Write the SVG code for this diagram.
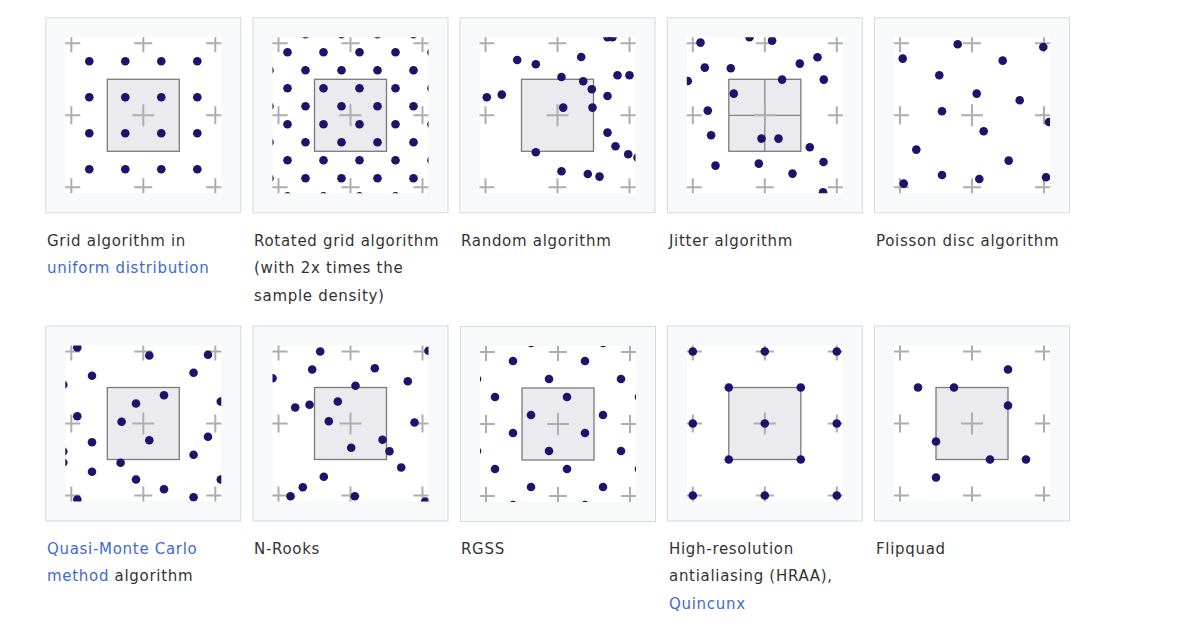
<svg xmlns="http://www.w3.org/2000/svg" xmlns:xlink="http://www.w3.org/1999/xlink" width="1200" height="628" viewBox="0 0 1200 628">
<style>
.frame{fill:#f8f9fa;stroke:#d6d9dd;stroke-width:1}
.inner{fill:#ffffff}
.px{fill:#ebebef;stroke:#7a7a7a;stroke-width:1.3}
.cr{stroke:#aeaeae;stroke-width:2;fill:none}
.jl{stroke:#858585;stroke-width:1.3;fill:none}
.d{fill:#1f126b}
.cap{font-family:"DejaVu Sans","Liberation Sans",sans-serif;font-size:15px;fill:#333333;letter-spacing:0.7px}
.lnk{fill:#4169d6}
</style>
<defs>
<clipPath id="clip"><rect x="-78" y="-78" width="156" height="156"/></clipPath>
<path id="crosses" class="cr" d="M-81 -72h18M-72 -81v18M-9 -72h18M0 -81v18M63 -72h18M72 -81v18M-81 0h18M-72 -9v18M63 0h18M72 -9v18M-81 72h18M-72 63v18M-9 72h18M0 63v18M63 72h18M72 63v18M-11 0h22M0 -11v22"/>
<rect id="frame" class="frame" x="-97.5" y="-97.5" width="195" height="195"/>
<rect id="inner" class="inner" x="-78" y="-78" width="156" height="156"/>
<rect id="pixel" class="px" x="-36" y="-36" width="72" height="72"/>
</defs>
<rect width="1200" height="628" fill="#ffffff"/>

<g id="grid">
<g transform="translate(143.3,115.3)">
<use href="#frame"/>
<g clip-path="url(#clip)">
<use href="#inner"/><use href="#pixel"/><use href="#crosses"/>
<g class="d">
<circle cx="-54" cy="-54" r="4.3"/><circle cx="-18" cy="-54" r="4.3"/><circle cx="18" cy="-54" r="4.3"/><circle cx="54" cy="-54" r="4.3"/>
<circle cx="-54" cy="-18" r="4.3"/><circle cx="-18" cy="-18" r="4.3"/><circle cx="18" cy="-18" r="4.3"/><circle cx="54" cy="-18" r="4.3"/>
<circle cx="-54" cy="18" r="4.3"/><circle cx="-18" cy="18" r="4.3"/><circle cx="18" cy="18" r="4.3"/><circle cx="54" cy="18" r="4.3"/>
<circle cx="-54" cy="54" r="4.3"/><circle cx="-18" cy="54" r="4.3"/><circle cx="18" cy="54" r="4.3"/><circle cx="54" cy="54" r="4.3"/>
</g>
</g>
</g>
<text class="cap" x="47" y="245.5">Grid algorithm in</text>
<text class="cap lnk" x="47" y="273">uniform distribution</text>
</g>

<g id="rotated">
<g transform="translate(350.5,115.3)">
<use href="#frame"/>
<g clip-path="url(#clip)">
<use href="#inner"/><use href="#pixel"/><use href="#crosses"/>
<g class="d">
<circle cx="-81" cy="-81" r="4.3"/><circle cx="-45" cy="-81" r="4.3"/><circle cx="-9" cy="-81" r="4.3"/><circle cx="27" cy="-81" r="4.3"/><circle cx="63" cy="-81" r="4.3"/>
<circle cx="-63" cy="-63" r="4.3"/><circle cx="-27" cy="-63" r="4.3"/><circle cx="9" cy="-63" r="4.3"/><circle cx="45" cy="-63" r="4.3"/><circle cx="81" cy="-63" r="4.3"/>
<circle cx="-81" cy="-45" r="4.3"/><circle cx="-45" cy="-45" r="4.3"/><circle cx="-9" cy="-45" r="4.3"/><circle cx="27" cy="-45" r="4.3"/><circle cx="63" cy="-45" r="4.3"/>
<circle cx="-63" cy="-27" r="4.3"/><circle cx="-27" cy="-27" r="4.3"/><circle cx="9" cy="-27" r="4.3"/><circle cx="45" cy="-27" r="4.3"/><circle cx="81" cy="-27" r="4.3"/>
<circle cx="-81" cy="-9" r="4.3"/><circle cx="-45" cy="-9" r="4.3"/><circle cx="-9" cy="-9" r="4.3"/><circle cx="27" cy="-9" r="4.3"/><circle cx="63" cy="-9" r="4.3"/>
<circle cx="-63" cy="9" r="4.3"/><circle cx="-27" cy="9" r="4.3"/><circle cx="9" cy="9" r="4.3"/><circle cx="45" cy="9" r="4.3"/><circle cx="81" cy="9" r="4.3"/>
<circle cx="-81" cy="27" r="4.3"/><circle cx="-45" cy="27" r="4.3"/><circle cx="-9" cy="27" r="4.3"/><circle cx="27" cy="27" r="4.3"/><circle cx="63" cy="27" r="4.3"/>
<circle cx="-63" cy="45" r="4.3"/><circle cx="-27" cy="45" r="4.3"/><circle cx="9" cy="45" r="4.3"/><circle cx="45" cy="45" r="4.3"/><circle cx="81" cy="45" r="4.3"/>
<circle cx="-81" cy="63" r="4.3"/><circle cx="-45" cy="63" r="4.3"/><circle cx="-9" cy="63" r="4.3"/><circle cx="27" cy="63" r="4.3"/><circle cx="63" cy="63" r="4.3"/>
<circle cx="-63" cy="81" r="4.3"/><circle cx="-27" cy="81" r="4.3"/><circle cx="9" cy="81" r="4.3"/><circle cx="45" cy="81" r="4.3"/><circle cx="81" cy="81" r="4.3"/>
</g>
</g>
</g>
<text class="cap" x="254" y="245.5">Rotated grid algorithm</text>
<text class="cap" x="254" y="273">(with 2x times the</text>
<text class="cap" x="254" y="300.5">sample density)</text>
</g>

<g id="random">
<g transform="translate(557.5,115.3)">
<use href="#frame"/>
<g clip-path="url(#clip)">
<use href="#inner"/><use href="#pixel"/><use href="#crosses"/>
<g class="d">
<circle cx="50" cy="-78" r="4.3"/><circle cx="55" cy="-78" r="4.3"/>
<circle cx="-40.3" cy="-55.3" r="4.3"/><circle cx="-21.7" cy="-51" r="4.3"/><circle cx="23.7" cy="-58.3" r="4.3"/>
<circle cx="4" cy="-38.3" r="4.3"/><circle cx="25.7" cy="-34" r="4.3"/><circle cx="60" cy="-40" r="4.3"/><circle cx="72" cy="-40" r="4.3"/>
<circle cx="34.3" cy="-26" r="4.3"/><circle cx="50" cy="-19.3" r="4.3"/><circle cx="-70.7" cy="-18" r="4.3"/><circle cx="-55.7" cy="-20.7" r="4.3"/>
<circle cx="5.7" cy="-7.7" r="4.3"/><circle cx="35" cy="-7.7" r="4.3"/><circle cx="50" cy="17.3" r="4.3"/><circle cx="58" cy="31" r="4.3"/>
<circle cx="70.7" cy="39" r="4.3"/><circle cx="80" cy="42.3" r="4.3"/><circle cx="-21.7" cy="37" r="4.3"/><circle cx="4" cy="56" r="4.3"/>
<circle cx="30.3" cy="58.7" r="4.3"/><circle cx="42" cy="61.3" r="4.3"/>
</g>
</g>
</g>
<text class="cap" x="461" y="245.5">Random algorithm</text>
</g>

<g id="jitter">
<g transform="translate(764.8,115.3)">
<use href="#frame"/>
<g clip-path="url(#clip)">
<use href="#inner"/><use href="#pixel"/>
<path class="jl" d="M0 -36V36M-36 0H36"/>
<use href="#crosses"/>
<g class="d">
<circle cx="-64.3" cy="-72.7" r="4.3"/><circle cx="-15.3" cy="-78" r="4.3"/><circle cx="7.3" cy="-74.7" r="4.3"/>
<circle cx="-60" cy="-47.7" r="4.3"/><circle cx="-34" cy="-47" r="4.3"/><circle cx="35" cy="-51.7" r="4.3"/><circle cx="52.7" cy="-58" r="4.3"/>
<circle cx="-77" cy="-34.3" r="4.3"/><circle cx="17.3" cy="-35.7" r="4.3"/><circle cx="59" cy="-35.7" r="4.3"/><circle cx="-31" cy="-21.7" r="4.3"/>
<circle cx="-57" cy="-4.7" r="4.3"/><circle cx="-53.7" cy="20" r="4.3"/><circle cx="-3.3" cy="23.3" r="4.3"/><circle cx="13.7" cy="23.3" r="4.3"/>
<circle cx="45" cy="32" r="4.3"/><circle cx="-49.3" cy="50.3" r="4.3"/><circle cx="-6" cy="48.3" r="4.3"/><circle cx="58.7" cy="46.7" r="4.3"/>
<circle cx="27.7" cy="58.3" r="4.3"/><circle cx="58.3" cy="77" r="4.3"/>
</g>
</g>
</g>
<text class="cap" x="669" y="245.5">Jitter algorithm</text>
</g>

<g id="poisson">
<g transform="translate(972,115.3)">
<use href="#frame"/>
<g clip-path="url(#clip)">
<use href="#inner"/><use href="#crosses"/>
<g class="d">
<circle cx="-14.3" cy="-71" r="4.3"/><circle cx="71.3" cy="-68.3" r="4.3"/><circle cx="-69.3" cy="-56.7" r="4.3"/><circle cx="30.7" cy="-54.7" r="4.3"/>
<circle cx="-32.7" cy="-40" r="4.3"/><circle cx="4.7" cy="-21.7" r="4.3"/><circle cx="47.7" cy="-15" r="4.3"/><circle cx="-30" cy="-4" r="4.3"/>
<circle cx="77" cy="6.7" r="4.3"/><circle cx="11.7" cy="16" r="4.3"/><circle cx="-55.7" cy="34.3" r="4.3"/><circle cx="36.7" cy="45.3" r="4.3"/>
<circle cx="-30" cy="59.7" r="4.3"/><circle cx="7.3" cy="63.7" r="4.3"/><circle cx="74" cy="62" r="4.3"/><circle cx="-68.3" cy="68.3" r="4.3"/>
</g>
</g>
</g>
<text class="cap" x="876" y="245.5">Poisson disc algorithm</text>
</g>

<g id="qmc">
<g transform="translate(143.3,423.5)">
<use href="#frame"/>
<g clip-path="url(#clip)">
<use href="#inner"/><use href="#pixel"/><use href="#crosses"/>
<g class="d">
<circle cx="-66" cy="-76" r="4.3"/><circle cx="6" cy="-68" r="4.3"/><circle cx="64.7" cy="-68.7" r="4.3"/><circle cx="-51.3" cy="-47.7" r="4.3"/>
<circle cx="50.3" cy="-50.7" r="4.3"/><circle cx="-80" cy="-38.7" r="4.3"/><circle cx="20.7" cy="-28.3" r="4.3"/><circle cx="-7.3" cy="-20" r="4.3"/>
<circle cx="77.5" cy="-22" r="4.3"/><circle cx="-66" cy="-7.3" r="4.3"/><circle cx="-21.7" cy="-1.7" r="4.3"/><circle cx="64.7" cy="13.3" r="4.3"/>
<circle cx="-51.3" cy="18.7" r="4.3"/><circle cx="6" cy="16.7" r="4.3"/><circle cx="-80" cy="28" r="4.3"/><circle cx="-80" cy="39" r="4.3"/>
<circle cx="-22.7" cy="39.3" r="4.3"/><circle cx="50.3" cy="31.3" r="4.3"/><circle cx="-51.3" cy="48.3" r="4.3"/><circle cx="-7.3" cy="56" r="4.3"/>
<circle cx="77.5" cy="56" r="4.3"/><circle cx="20.7" cy="65.7" r="4.3"/><circle cx="-66" cy="76" r="4.3"/><circle cx="50.3" cy="73.7" r="4.3"/>
</g>
</g>
</g>
<text class="cap lnk" x="47" y="553.5">Quasi-Monte Carlo</text>
<text class="cap" x="47" y="581"><tspan class="lnk">method</tspan> algorithm</text>
</g>

<g id="nrooks">
<g transform="translate(350.5,423.5)">
<use href="#frame"/>
<g clip-path="url(#clip)">
<use href="#inner"/><use href="#pixel"/><use href="#crosses"/>
<g class="d">
<circle cx="-30.3" cy="-72" r="4.3"/><circle cx="78" cy="-72.7" r="4.3"/><circle cx="-38.3" cy="-54" r="4.3"/><circle cx="24.3" cy="-55.3" r="4.3"/>
<circle cx="-78" cy="-45.3" r="4.3"/><circle cx="57.3" cy="-42.3" r="4.3"/><circle cx="5" cy="-37.7" r="4.3"/><circle cx="-55.3" cy="-16" r="4.3"/>
<circle cx="-41" cy="-18.7" r="4.3"/><circle cx="-12.7" cy="-22" r="4.3"/><circle cx="-21.7" cy="-2.3" r="4.3"/><circle cx="64" cy="-1" r="4.3"/>
<circle cx="32" cy="16.3" r="4.3"/><circle cx="0.7" cy="24.3" r="4.3"/><circle cx="39" cy="27.7" r="4.3"/><circle cx="50.7" cy="44" r="4.3"/>
<circle cx="-26.7" cy="53.3" r="4.3"/><circle cx="-47.7" cy="63.7" r="4.3"/><circle cx="-60" cy="72.7" r="4.3"/><circle cx="4.3" cy="72.7" r="4.3"/>
<circle cx="74.7" cy="78" r="4.3"/>
</g>
</g>
</g>
<text class="cap" x="254" y="553.5">N-Rooks</text>
</g>

<g id="rgss">
<g transform="translate(558,424)">
<use href="#frame"/>
<g clip-path="url(#clip)">
<use href="#inner"/><use href="#pixel"/><use href="#crosses"/>
<g class="d">
<circle cx="-45" cy="-63" r="4.3"/><circle cx="-81" cy="-45" r="4.3"/>
<circle cx="-27" cy="-81" r="4.3"/><circle cx="27" cy="-63" r="4.3"/><circle cx="-9" cy="-45" r="4.3"/>
<circle cx="45" cy="-81" r="4.3"/><circle cx="63" cy="-45" r="4.3"/>
<circle cx="-63" cy="-27" r="4.3"/><circle cx="-45" cy="9" r="4.3"/><circle cx="-81" cy="27" r="4.3"/>
<circle cx="9" cy="-27" r="4.3"/><circle cx="-27" cy="-9" r="4.3"/><circle cx="27" cy="9" r="4.3"/><circle cx="-9" cy="27" r="4.3"/>
<circle cx="81" cy="-27" r="4.3"/><circle cx="45" cy="-9" r="4.3"/><circle cx="63" cy="27" r="4.3"/>
<circle cx="-63" cy="45" r="4.3"/><circle cx="-45" cy="81" r="4.3"/>
<circle cx="9" cy="45" r="4.3"/><circle cx="-27" cy="63" r="4.3"/><circle cx="27" cy="81" r="4.3"/>
<circle cx="81" cy="45" r="4.3"/><circle cx="45" cy="63" r="4.3"/>
</g>
</g>
</g>
<text class="cap" x="461" y="553.5">RGSS</text>
</g>

<g id="quincunx">
<g transform="translate(764.8,423.5)">
<use href="#frame"/>
<g clip-path="url(#clip)">
<use href="#inner"/><use href="#pixel"/><use href="#crosses"/>
<g class="d">
<circle cx="-72" cy="-72" r="4.3"/><circle cx="0" cy="-72" r="4.3"/><circle cx="72" cy="-72" r="4.3"/>
<circle cx="-72" cy="0" r="4.3"/><circle cx="0" cy="0" r="4.3"/><circle cx="72" cy="0" r="4.3"/>
<circle cx="-72" cy="72" r="4.3"/><circle cx="0" cy="72" r="4.3"/><circle cx="72" cy="72" r="4.3"/>
<circle cx="-36" cy="-36" r="4.3"/><circle cx="36" cy="-36" r="4.3"/><circle cx="-36" cy="36" r="4.3"/><circle cx="36" cy="36" r="4.3"/>
</g>
</g>
</g>
<text class="cap" x="669" y="553.5">High-resolution</text>
<text class="cap" x="669" y="581">antialiasing (HRAA),</text>
<text class="cap lnk" x="669" y="608.5">Quincunx</text>
</g>

<g id="flipquad">
<g transform="translate(972,423.5)">
<use href="#frame"/>
<g clip-path="url(#clip)">
<use href="#inner"/><use href="#pixel"/><use href="#crosses"/>
<g class="d">
<circle cx="-54" cy="-36" r="4.3"/><circle cx="-18" cy="-36" r="4.3"/><circle cx="36" cy="-54" r="4.3"/><circle cx="36" cy="-18" r="4.3"/>
<circle cx="-36" cy="18" r="4.3"/><circle cx="18" cy="36" r="4.3"/><circle cx="54" cy="36" r="4.3"/><circle cx="-36" cy="54" r="4.3"/>
</g>
</g>
</g>
<text class="cap" x="876" y="553.5">Flipquad</text>
</g>
</svg>
